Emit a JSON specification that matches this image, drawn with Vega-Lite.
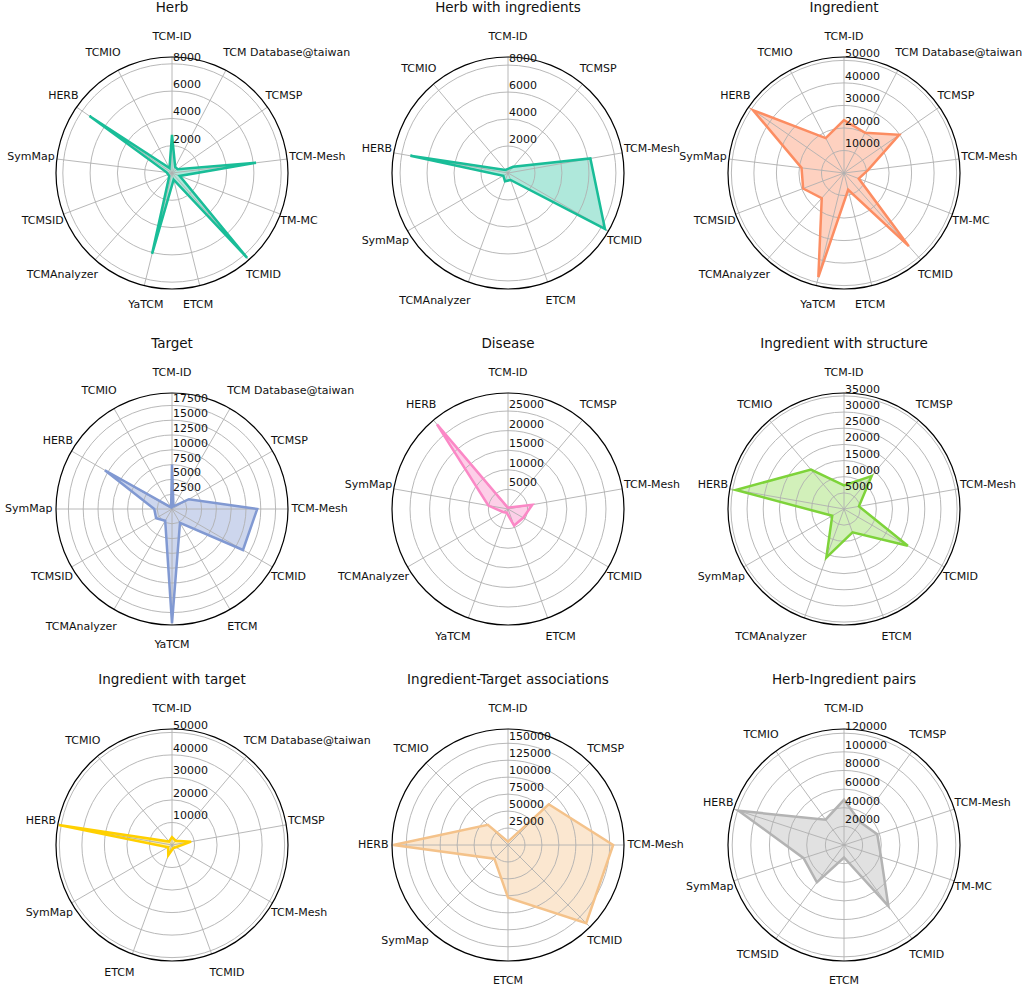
{
  "$schema": "https://vega.github.io/schema/vega-lite/v6.json",
  "padding": {"left": 5, "top": 0, "right": 0, "bottom": 0},
  "background": "white",
  "columns": 3,
  "spacing": {"row": 36, "column": 36},
  "bounds": "flush",
  "resolve": {"scale": {"radius": "independent"}},
  "datasets": {
    "herb": [
      {"i": 0, "db": "TCM-ID", "v": 2800},
      {"i": 1, "db": "TCM Database@taiwan", "v": 500},
      {"i": 2, "db": "TCMSP", "v": 500},
      {"i": 3, "db": "TCM-Mesh", "v": 6200},
      {"i": 4, "db": "TM-MC", "v": 600},
      {"i": 5, "db": "TCMID", "v": 8300},
      {"i": 6, "db": "ETCM", "v": 500},
      {"i": 7, "db": "YaTCM", "v": 6100},
      {"i": 8, "db": "TCMAnalyzer", "v": 300},
      {"i": 9, "db": "TCMSID", "v": 300},
      {"i": 10, "db": "SymMap", "v": 400},
      {"i": 11, "db": "HERB", "v": 7350},
      {"i": 12, "db": "TCMIO", "v": 400}
    ],
    "herb_t": [{"t": 2000}, {"t": 4000}, {"t": 6000}, {"t": 8000}],
    "hwi": [
      {"i": 0, "db": "TCM-ID", "v": 300},
      {"i": 1, "db": "TCMSP", "v": 600},
      {"i": 2, "db": "TCM-Mesh", "v": 6200},
      {"i": 3, "db": "TCMID", "v": 8300},
      {"i": 4, "db": "ETCM", "v": 550},
      {"i": 5, "db": "TCMAnalyzer", "v": 650},
      {"i": 6, "db": "SymMap", "v": 400},
      {"i": 7, "db": "HERB", "v": 7350},
      {"i": 8, "db": "TCMIO", "v": 300}
    ],
    "hwi_t": [{"t": 2000}, {"t": 4000}, {"t": 6000}, {"t": 8000}],
    "ing": [
      {"i": 0, "db": "TCM-ID", "v": 23500},
      {"i": 1, "db": "TCM Database@taiwan", "v": 20200},
      {"i": 2, "db": "TCMSP", "v": 29800},
      {"i": 3, "db": "TCM-Mesh", "v": 10700},
      {"i": 4, "db": "TM-MC", "v": 7000},
      {"i": 5, "db": "TCMID", "v": 43400},
      {"i": 6, "db": "ETCM", "v": 7700},
      {"i": 7, "db": "YaTCM", "v": 47600},
      {"i": 8, "db": "TCMAnalyzer", "v": 14900},
      {"i": 9, "db": "TCMSID", "v": 19400},
      {"i": 10, "db": "SymMap", "v": 19000},
      {"i": 11, "db": "HERB", "v": 49000},
      {"i": 12, "db": "TCMIO", "v": 17500}
    ],
    "ing_t": [{"t": 10000}, {"t": 20000}, {"t": 30000}, {"t": 40000}, {"t": 50000}],
    "tgt": [
      {"i": 0, "db": "TCM-ID", "v": 7500},
      {"i": 1, "db": "TCM Database@taiwan", "v": 500},
      {"i": 2, "db": "TCMSP", "v": 3300},
      {"i": 3, "db": "TCM-Mesh", "v": 14400},
      {"i": 4, "db": "TCMID", "v": 13850},
      {"i": 5, "db": "ETCM", "v": 2700},
      {"i": 6, "db": "YaTCM", "v": 19300},
      {"i": 7, "db": "TCMAnalyzer", "v": 2300},
      {"i": 8, "db": "TCMSID", "v": 3100},
      {"i": 9, "db": "SymMap", "v": 3000},
      {"i": 10, "db": "HERB", "v": 13100},
      {"i": 11, "db": "TCMIO", "v": 300}
    ],
    "tgt_t": [{"t": 2500}, {"t": 5000}, {"t": 7500}, {"t": 10000}, {"t": 12500}, {"t": 15000}, {"t": 17500}],
    "dis": [
      {"i": 0, "db": "TCM-ID", "v": 300},
      {"i": 1, "db": "TCMSP", "v": 500},
      {"i": 2, "db": "TCM-Mesh", "v": 6300},
      {"i": 3, "db": "TCMID", "v": 4500},
      {"i": 4, "db": "ETCM", "v": 4500},
      {"i": 5, "db": "YaTCM", "v": 1000},
      {"i": 6, "db": "TCMAnalyzer", "v": 1500},
      {"i": 7, "db": "SymMap", "v": 5100},
      {"i": 8, "db": "HERB", "v": 28200}
    ],
    "dis_t": [{"t": 5000}, {"t": 10000}, {"t": 15000}, {"t": 20000}, {"t": 25000}],
    "iws": [
      {"i": 0, "db": "TCM-ID", "v": 7300},
      {"i": 1, "db": "TCMSP", "v": 13300},
      {"i": 2, "db": "TCM-Mesh", "v": 4700},
      {"i": 3, "db": "TCMID", "v": 22800},
      {"i": 4, "db": "ETCM", "v": 7700},
      {"i": 5, "db": "TCMAnalyzer", "v": 16000},
      {"i": 6, "db": "SymMap", "v": 4200},
      {"i": 7, "db": "HERB", "v": 34000},
      {"i": 8, "db": "TCMIO", "v": 15900}
    ],
    "iws_t": [{"t": 5000}, {"t": 10000}, {"t": 15000}, {"t": 20000}, {"t": 25000}, {"t": 30000}, {"t": 35000}],
    "iwt": [
      {"i": 0, "db": "TCM-ID", "v": 3500},
      {"i": 1, "db": "TCM Database@taiwan", "v": 2500},
      {"i": 2, "db": "TCMSP", "v": 8600},
      {"i": 3, "db": "TCM-Mesh", "v": 2000},
      {"i": 4, "db": "TCMID", "v": 1500},
      {"i": 5, "db": "ETCM", "v": 4800},
      {"i": 6, "db": "SymMap", "v": 2000},
      {"i": 7, "db": "HERB", "v": 51000},
      {"i": 8, "db": "TCMIO", "v": 2000}
    ],
    "iwt_t": [{"t": 10000}, {"t": 20000}, {"t": 30000}, {"t": 40000}, {"t": 50000}],
    "ita": [
      {"i": 0, "db": "TCM-ID", "v": 5000},
      {"i": 1, "db": "TCMSP", "v": 85000},
      {"i": 2, "db": "TCM-Mesh", "v": 155000},
      {"i": 3, "db": "TCMID", "v": 163000},
      {"i": 4, "db": "ETCM", "v": 77500},
      {"i": 5, "db": "SymMap", "v": 28500},
      {"i": 6, "db": "HERB", "v": 169000},
      {"i": 7, "db": "TCMIO", "v": 42000}
    ],
    "ita_t": [{"t": 25000}, {"t": 50000}, {"t": 75000}, {"t": 100000}, {"t": 125000}, {"t": 150000}],
    "hip": [
      {"i": 0, "db": "TCM-ID", "v": 48500},
      {"i": 1, "db": "TCMSP", "v": 30000},
      {"i": 2, "db": "TCM-Mesh", "v": 37500},
      {"i": 3, "db": "TM-MC", "v": 41800},
      {"i": 4, "db": "TCMID", "v": 81000},
      {"i": 5, "db": "ETCM", "v": 13400},
      {"i": 6, "db": "TCMSID", "v": 49500},
      {"i": 7, "db": "SymMap", "v": 45600},
      {"i": 8, "db": "HERB", "v": 119000},
      {"i": 9, "db": "TCMIO", "v": 33600}
    ],
    "hip_t": [{"t": 20000}, {"t": 40000}, {"t": 60000}, {"t": 80000}, {"t": 100000}, {"t": 120000}]
  },
  "concat": [
    {
      "title": "Herb",
      "width": 300, "height": 300,
      "layer": [
        {"data": {"name": "herb"},
         "transform": [{"calculate": "2*PI*datum.i/13", "as": "th"}, {"calculate": "datum.v/8500*sin(datum.th)", "as": "px"}, {"calculate": "datum.v/8500*cos(datum.th)", "as": "py"}],
         "mark": {"type": "line", "interpolate": "linear-closed", "fill": "#19bd98", "fillOpacity": 0.35, "strokeOpacity": 0},
         "encoding": {"x": {"field": "px", "type": "quantitative", "scale": {"domain": [-1.2931, 1.2931], "nice": false, "zero": false}, "axis": null}, "y": {"field": "py", "type": "quantitative", "scale": {"domain": [-1.2931, 1.2931], "nice": false, "zero": false}, "axis": null}, "order": {"field": "i", "type": "quantitative"}}},
        {"data": {"name": "herb_t"},
         "transform": [{"calculate": "datum.t/8500", "as": "r"}],
         "mark": {"type": "arc", "filled": false, "fill": "transparent", "stroke": "#b0b0b0", "strokeWidth": 0.9, "theta": 0, "theta2": 6.2832},
         "encoding": {"radius": {"field": "r", "type": "quantitative", "stack": null, "scale": {"type": "linear", "domain": [0, 1], "range": [0, 116], "zero": true, "nice": false}}}},
        {"data": {"name": "herb"},
         "transform": [{"calculate": "2*PI*datum.i/13", "as": "th"}, {"calculate": "sin(datum.th)", "as": "sx"}, {"calculate": "cos(datum.th)", "as": "sy"}],
         "mark": {"type": "rule", "color": "#b0b0b0", "strokeWidth": 0.9},
         "encoding": {"x": {"field": "sx", "type": "quantitative"}, "y": {"field": "sy", "type": "quantitative"}, "x2": {"datum": 0}, "y2": {"datum": 0}}},
        {"data": {"name": "herb_t"},
         "transform": [{"aggregate": [{"op": "count", "as": "n"}]}],
         "mark": {"type": "arc", "filled": false, "fill": "transparent", "stroke": "black", "strokeWidth": 1.2, "theta": 0, "theta2": 6.2832},
         "encoding": {"radius": {"datum": 1, "type": "quantitative", "stack": null}}},
        {"data": {"name": "herb"},
         "transform": [{"calculate": "2*PI*datum.i/13", "as": "th"}, {"calculate": "datum.v/8500*sin(datum.th)", "as": "px"}, {"calculate": "datum.v/8500*cos(datum.th)", "as": "py"}],
         "mark": {"type": "line", "interpolate": "linear-closed", "color": "#19bd98", "strokeWidth": 2.5},
         "encoding": {"x": {"field": "px", "type": "quantitative"}, "y": {"field": "py", "type": "quantitative"}, "order": {"field": "i", "type": "quantitative"}}},
        {"data": {"name": "herb_t"},
         "transform": [{"calculate": "datum.t/8500", "as": "r"}],
         "mark": {"type": "text", "align": "left", "baseline": "middle", "dx": 1, "dy": -6},
         "encoding": {"x": {"datum": 0, "type": "quantitative"}, "y": {"field": "r", "type": "quantitative"}, "text": {"field": "t", "type": "quantitative", "format": "d"}}},
        {"data": {"name": "herb"},
         "transform": [{"calculate": "2*PI*datum.i/13", "as": "th"}, {"calculate": "sin(datum.th)", "as": "sx"}, {"calculate": "sin(datum.th)*(1.03-0.09*abs(cos(datum.th)))", "as": "lx"}, {"calculate": "1.1724*cos(datum.th)", "as": "ly"}],
         "mark": {"type": "text", "baseline": "middle", "align": {"expr": "datum.sx > 0.3 ? 'left' : (datum.sx < -0.3 ? 'right' : 'center')"}},
         "encoding": {"x": {"field": "lx", "type": "quantitative"}, "y": {"field": "ly", "type": "quantitative"}, "text": {"field": "db", "type": "nominal"}}}
      ]
    },
    {
      "title": "Herb with ingredients",
      "width": 300, "height": 300,
      "layer": [
        {"data": {"name": "hwi"},
         "transform": [{"calculate": "2*PI*datum.i/9", "as": "th"}, {"calculate": "datum.v/8600*sin(datum.th)", "as": "px"}, {"calculate": "datum.v/8600*cos(datum.th)", "as": "py"}],
         "mark": {"type": "line", "interpolate": "linear-closed", "fill": "#19bd98", "fillOpacity": 0.35, "strokeOpacity": 0},
         "encoding": {"x": {"field": "px", "type": "quantitative", "scale": {"domain": [-1.2931, 1.2931], "nice": false, "zero": false}, "axis": null}, "y": {"field": "py", "type": "quantitative", "scale": {"domain": [-1.2931, 1.2931], "nice": false, "zero": false}, "axis": null}, "order": {"field": "i", "type": "quantitative"}}},
        {"data": {"name": "hwi_t"},
         "transform": [{"calculate": "datum.t/8600", "as": "r"}],
         "mark": {"type": "arc", "filled": false, "fill": "transparent", "stroke": "#b0b0b0", "strokeWidth": 0.9, "theta": 0, "theta2": 6.2832},
         "encoding": {"radius": {"field": "r", "type": "quantitative", "stack": null, "scale": {"type": "linear", "domain": [0, 1], "range": [0, 116], "zero": true, "nice": false}}}},
        {"data": {"name": "hwi"},
         "transform": [{"calculate": "2*PI*datum.i/9", "as": "th"}, {"calculate": "sin(datum.th)", "as": "sx"}, {"calculate": "cos(datum.th)", "as": "sy"}],
         "mark": {"type": "rule", "color": "#b0b0b0", "strokeWidth": 0.9},
         "encoding": {"x": {"field": "sx", "type": "quantitative"}, "y": {"field": "sy", "type": "quantitative"}, "x2": {"datum": 0}, "y2": {"datum": 0}}},
        {"data": {"name": "hwi_t"},
         "transform": [{"aggregate": [{"op": "count", "as": "n"}]}],
         "mark": {"type": "arc", "filled": false, "fill": "transparent", "stroke": "black", "strokeWidth": 1.2, "theta": 0, "theta2": 6.2832},
         "encoding": {"radius": {"datum": 1, "type": "quantitative", "stack": null}}},
        {"data": {"name": "hwi"},
         "transform": [{"calculate": "2*PI*datum.i/9", "as": "th"}, {"calculate": "datum.v/8600*sin(datum.th)", "as": "px"}, {"calculate": "datum.v/8600*cos(datum.th)", "as": "py"}],
         "mark": {"type": "line", "interpolate": "linear-closed", "color": "#19bd98", "strokeWidth": 2.5},
         "encoding": {"x": {"field": "px", "type": "quantitative"}, "y": {"field": "py", "type": "quantitative"}, "order": {"field": "i", "type": "quantitative"}}},
        {"data": {"name": "hwi_t"},
         "transform": [{"calculate": "datum.t/8600", "as": "r"}],
         "mark": {"type": "text", "align": "left", "baseline": "middle", "dx": 1, "dy": -6},
         "encoding": {"x": {"datum": 0, "type": "quantitative"}, "y": {"field": "r", "type": "quantitative"}, "text": {"field": "t", "type": "quantitative", "format": "d"}}},
        {"data": {"name": "hwi"},
         "transform": [{"calculate": "2*PI*datum.i/9", "as": "th"}, {"calculate": "sin(datum.th)", "as": "sx"}, {"calculate": "sin(datum.th)*(1.03-0.09*abs(cos(datum.th)))", "as": "lx"}, {"calculate": "1.1724*cos(datum.th)", "as": "ly"}],
         "mark": {"type": "text", "baseline": "middle", "align": {"expr": "datum.sx > 0.3 ? 'left' : (datum.sx < -0.3 ? 'right' : 'center')"}},
         "encoding": {"x": {"field": "lx", "type": "quantitative"}, "y": {"field": "ly", "type": "quantitative"}, "text": {"field": "db", "type": "nominal"}}}
      ]
    },
    {
      "title": "Ingredient",
      "width": 300, "height": 300,
      "layer": [
        {"data": {"name": "ing"},
         "transform": [{"calculate": "2*PI*datum.i/13", "as": "th"}, {"calculate": "datum.v/51500*sin(datum.th)", "as": "px"}, {"calculate": "datum.v/51500*cos(datum.th)", "as": "py"}],
         "mark": {"type": "line", "interpolate": "linear-closed", "fill": "#fc8d62", "fillOpacity": 0.4, "strokeOpacity": 0},
         "encoding": {"x": {"field": "px", "type": "quantitative", "scale": {"domain": [-1.2931, 1.2931], "nice": false, "zero": false}, "axis": null}, "y": {"field": "py", "type": "quantitative", "scale": {"domain": [-1.2931, 1.2931], "nice": false, "zero": false}, "axis": null}, "order": {"field": "i", "type": "quantitative"}}},
        {"data": {"name": "ing_t"},
         "transform": [{"calculate": "datum.t/51500", "as": "r"}],
         "mark": {"type": "arc", "filled": false, "fill": "transparent", "stroke": "#b0b0b0", "strokeWidth": 0.9, "theta": 0, "theta2": 6.2832},
         "encoding": {"radius": {"field": "r", "type": "quantitative", "stack": null, "scale": {"type": "linear", "domain": [0, 1], "range": [0, 116], "zero": true, "nice": false}}}},
        {"data": {"name": "ing"},
         "transform": [{"calculate": "2*PI*datum.i/13", "as": "th"}, {"calculate": "sin(datum.th)", "as": "sx"}, {"calculate": "cos(datum.th)", "as": "sy"}],
         "mark": {"type": "rule", "color": "#b0b0b0", "strokeWidth": 0.9},
         "encoding": {"x": {"field": "sx", "type": "quantitative"}, "y": {"field": "sy", "type": "quantitative"}, "x2": {"datum": 0}, "y2": {"datum": 0}}},
        {"data": {"name": "ing_t"},
         "transform": [{"aggregate": [{"op": "count", "as": "n"}]}],
         "mark": {"type": "arc", "filled": false, "fill": "transparent", "stroke": "black", "strokeWidth": 1.2, "theta": 0, "theta2": 6.2832},
         "encoding": {"radius": {"datum": 1, "type": "quantitative", "stack": null}}},
        {"data": {"name": "ing"},
         "transform": [{"calculate": "2*PI*datum.i/13", "as": "th"}, {"calculate": "datum.v/51500*sin(datum.th)", "as": "px"}, {"calculate": "datum.v/51500*cos(datum.th)", "as": "py"}],
         "mark": {"type": "line", "interpolate": "linear-closed", "color": "#fc8d62", "strokeWidth": 2.5},
         "encoding": {"x": {"field": "px", "type": "quantitative"}, "y": {"field": "py", "type": "quantitative"}, "order": {"field": "i", "type": "quantitative"}}},
        {"data": {"name": "ing_t"},
         "transform": [{"calculate": "datum.t/51500", "as": "r"}],
         "mark": {"type": "text", "align": "left", "baseline": "middle", "dx": 1, "dy": -6},
         "encoding": {"x": {"datum": 0, "type": "quantitative"}, "y": {"field": "r", "type": "quantitative"}, "text": {"field": "t", "type": "quantitative", "format": "d"}}},
        {"data": {"name": "ing"},
         "transform": [{"calculate": "2*PI*datum.i/13", "as": "th"}, {"calculate": "sin(datum.th)", "as": "sx"}, {"calculate": "sin(datum.th)*(1.03-0.09*abs(cos(datum.th)))", "as": "lx"}, {"calculate": "1.1724*cos(datum.th)", "as": "ly"}],
         "mark": {"type": "text", "baseline": "middle", "align": {"expr": "datum.sx > 0.3 ? 'left' : (datum.sx < -0.3 ? 'right' : 'center')"}},
         "encoding": {"x": {"field": "lx", "type": "quantitative"}, "y": {"field": "ly", "type": "quantitative"}, "text": {"field": "db", "type": "nominal"}}}
      ]
    },
    {
      "title": "Target",
      "width": 300, "height": 300,
      "layer": [
        {"data": {"name": "tgt"},
         "transform": [{"calculate": "2*PI*datum.i/12", "as": "th"}, {"calculate": "datum.v/19600*sin(datum.th)", "as": "px"}, {"calculate": "datum.v/19600*cos(datum.th)", "as": "py"}],
         "mark": {"type": "line", "interpolate": "linear-closed", "fill": "#8199d2", "fillOpacity": 0.4, "strokeOpacity": 0},
         "encoding": {"x": {"field": "px", "type": "quantitative", "scale": {"domain": [-1.2931, 1.2931], "nice": false, "zero": false}, "axis": null}, "y": {"field": "py", "type": "quantitative", "scale": {"domain": [-1.2931, 1.2931], "nice": false, "zero": false}, "axis": null}, "order": {"field": "i", "type": "quantitative"}}},
        {"data": {"name": "tgt_t"},
         "transform": [{"calculate": "datum.t/19600", "as": "r"}],
         "mark": {"type": "arc", "filled": false, "fill": "transparent", "stroke": "#b0b0b0", "strokeWidth": 0.9, "theta": 0, "theta2": 6.2832},
         "encoding": {"radius": {"field": "r", "type": "quantitative", "stack": null, "scale": {"type": "linear", "domain": [0, 1], "range": [0, 116], "zero": true, "nice": false}}}},
        {"data": {"name": "tgt"},
         "transform": [{"calculate": "2*PI*datum.i/12", "as": "th"}, {"calculate": "sin(datum.th)", "as": "sx"}, {"calculate": "cos(datum.th)", "as": "sy"}],
         "mark": {"type": "rule", "color": "#b0b0b0", "strokeWidth": 0.9},
         "encoding": {"x": {"field": "sx", "type": "quantitative"}, "y": {"field": "sy", "type": "quantitative"}, "x2": {"datum": 0}, "y2": {"datum": 0}}},
        {"data": {"name": "tgt_t"},
         "transform": [{"aggregate": [{"op": "count", "as": "n"}]}],
         "mark": {"type": "arc", "filled": false, "fill": "transparent", "stroke": "black", "strokeWidth": 1.2, "theta": 0, "theta2": 6.2832},
         "encoding": {"radius": {"datum": 1, "type": "quantitative", "stack": null}}},
        {"data": {"name": "tgt"},
         "transform": [{"calculate": "2*PI*datum.i/12", "as": "th"}, {"calculate": "datum.v/19600*sin(datum.th)", "as": "px"}, {"calculate": "datum.v/19600*cos(datum.th)", "as": "py"}],
         "mark": {"type": "line", "interpolate": "linear-closed", "color": "#8199d2", "strokeWidth": 2.5},
         "encoding": {"x": {"field": "px", "type": "quantitative"}, "y": {"field": "py", "type": "quantitative"}, "order": {"field": "i", "type": "quantitative"}}},
        {"data": {"name": "tgt_t"},
         "transform": [{"calculate": "datum.t/19600", "as": "r"}],
         "mark": {"type": "text", "align": "left", "baseline": "middle", "dx": 1, "dy": -6},
         "encoding": {"x": {"datum": 0, "type": "quantitative"}, "y": {"field": "r", "type": "quantitative"}, "text": {"field": "t", "type": "quantitative", "format": "d"}}},
        {"data": {"name": "tgt"},
         "transform": [{"calculate": "2*PI*datum.i/12", "as": "th"}, {"calculate": "sin(datum.th)", "as": "sx"}, {"calculate": "sin(datum.th)*(1.03-0.09*abs(cos(datum.th)))", "as": "lx"}, {"calculate": "1.1724*cos(datum.th)", "as": "ly"}],
         "mark": {"type": "text", "baseline": "middle", "align": {"expr": "datum.sx > 0.3 ? 'left' : (datum.sx < -0.3 ? 'right' : 'center')"}},
         "encoding": {"x": {"field": "lx", "type": "quantitative"}, "y": {"field": "ly", "type": "quantitative"}, "text": {"field": "db", "type": "nominal"}}}
      ]
    },
    {
      "title": "Disease",
      "width": 300, "height": 300,
      "layer": [
        {"data": {"name": "dis"},
         "transform": [{"calculate": "2*PI*datum.i/9", "as": "th"}, {"calculate": "datum.v/29600*sin(datum.th)", "as": "px"}, {"calculate": "datum.v/29600*cos(datum.th)", "as": "py"}],
         "mark": {"type": "line", "interpolate": "linear-closed", "fill": "#fb88c6", "fillOpacity": 0.4, "strokeOpacity": 0},
         "encoding": {"x": {"field": "px", "type": "quantitative", "scale": {"domain": [-1.2931, 1.2931], "nice": false, "zero": false}, "axis": null}, "y": {"field": "py", "type": "quantitative", "scale": {"domain": [-1.2931, 1.2931], "nice": false, "zero": false}, "axis": null}, "order": {"field": "i", "type": "quantitative"}}},
        {"data": {"name": "dis_t"},
         "transform": [{"calculate": "datum.t/29600", "as": "r"}],
         "mark": {"type": "arc", "filled": false, "fill": "transparent", "stroke": "#b0b0b0", "strokeWidth": 0.9, "theta": 0, "theta2": 6.2832},
         "encoding": {"radius": {"field": "r", "type": "quantitative", "stack": null, "scale": {"type": "linear", "domain": [0, 1], "range": [0, 116], "zero": true, "nice": false}}}},
        {"data": {"name": "dis"},
         "transform": [{"calculate": "2*PI*datum.i/9", "as": "th"}, {"calculate": "sin(datum.th)", "as": "sx"}, {"calculate": "cos(datum.th)", "as": "sy"}],
         "mark": {"type": "rule", "color": "#b0b0b0", "strokeWidth": 0.9},
         "encoding": {"x": {"field": "sx", "type": "quantitative"}, "y": {"field": "sy", "type": "quantitative"}, "x2": {"datum": 0}, "y2": {"datum": 0}}},
        {"data": {"name": "dis_t"},
         "transform": [{"aggregate": [{"op": "count", "as": "n"}]}],
         "mark": {"type": "arc", "filled": false, "fill": "transparent", "stroke": "black", "strokeWidth": 1.2, "theta": 0, "theta2": 6.2832},
         "encoding": {"radius": {"datum": 1, "type": "quantitative", "stack": null}}},
        {"data": {"name": "dis"},
         "transform": [{"calculate": "2*PI*datum.i/9", "as": "th"}, {"calculate": "datum.v/29600*sin(datum.th)", "as": "px"}, {"calculate": "datum.v/29600*cos(datum.th)", "as": "py"}],
         "mark": {"type": "line", "interpolate": "linear-closed", "color": "#fb88c6", "strokeWidth": 2.5},
         "encoding": {"x": {"field": "px", "type": "quantitative"}, "y": {"field": "py", "type": "quantitative"}, "order": {"field": "i", "type": "quantitative"}}},
        {"data": {"name": "dis_t"},
         "transform": [{"calculate": "datum.t/29600", "as": "r"}],
         "mark": {"type": "text", "align": "left", "baseline": "middle", "dx": 1, "dy": -6},
         "encoding": {"x": {"datum": 0, "type": "quantitative"}, "y": {"field": "r", "type": "quantitative"}, "text": {"field": "t", "type": "quantitative", "format": "d"}}},
        {"data": {"name": "dis"},
         "transform": [{"calculate": "2*PI*datum.i/9", "as": "th"}, {"calculate": "sin(datum.th)", "as": "sx"}, {"calculate": "sin(datum.th)*(1.03-0.09*abs(cos(datum.th)))", "as": "lx"}, {"calculate": "1.1724*cos(datum.th)", "as": "ly"}],
         "mark": {"type": "text", "baseline": "middle", "align": {"expr": "datum.sx > 0.3 ? 'left' : (datum.sx < -0.3 ? 'right' : 'center')"}},
         "encoding": {"x": {"field": "lx", "type": "quantitative"}, "y": {"field": "ly", "type": "quantitative"}, "text": {"field": "db", "type": "nominal"}}}
      ]
    },
    {
      "title": "Ingredient with structure",
      "width": 300, "height": 300,
      "layer": [
        {"data": {"name": "iws"},
         "transform": [{"calculate": "2*PI*datum.i/9", "as": "th"}, {"calculate": "datum.v/35900*sin(datum.th)", "as": "px"}, {"calculate": "datum.v/35900*cos(datum.th)", "as": "py"}],
         "mark": {"type": "line", "interpolate": "linear-closed", "fill": "#7ed33a", "fillOpacity": 0.35, "strokeOpacity": 0},
         "encoding": {"x": {"field": "px", "type": "quantitative", "scale": {"domain": [-1.2931, 1.2931], "nice": false, "zero": false}, "axis": null}, "y": {"field": "py", "type": "quantitative", "scale": {"domain": [-1.2931, 1.2931], "nice": false, "zero": false}, "axis": null}, "order": {"field": "i", "type": "quantitative"}}},
        {"data": {"name": "iws_t"},
         "transform": [{"calculate": "datum.t/35900", "as": "r"}],
         "mark": {"type": "arc", "filled": false, "fill": "transparent", "stroke": "#b0b0b0", "strokeWidth": 0.9, "theta": 0, "theta2": 6.2832},
         "encoding": {"radius": {"field": "r", "type": "quantitative", "stack": null, "scale": {"type": "linear", "domain": [0, 1], "range": [0, 116], "zero": true, "nice": false}}}},
        {"data": {"name": "iws"},
         "transform": [{"calculate": "2*PI*datum.i/9", "as": "th"}, {"calculate": "sin(datum.th)", "as": "sx"}, {"calculate": "cos(datum.th)", "as": "sy"}],
         "mark": {"type": "rule", "color": "#b0b0b0", "strokeWidth": 0.9},
         "encoding": {"x": {"field": "sx", "type": "quantitative"}, "y": {"field": "sy", "type": "quantitative"}, "x2": {"datum": 0}, "y2": {"datum": 0}}},
        {"data": {"name": "iws_t"},
         "transform": [{"aggregate": [{"op": "count", "as": "n"}]}],
         "mark": {"type": "arc", "filled": false, "fill": "transparent", "stroke": "black", "strokeWidth": 1.2, "theta": 0, "theta2": 6.2832},
         "encoding": {"radius": {"datum": 1, "type": "quantitative", "stack": null}}},
        {"data": {"name": "iws"},
         "transform": [{"calculate": "2*PI*datum.i/9", "as": "th"}, {"calculate": "datum.v/35900*sin(datum.th)", "as": "px"}, {"calculate": "datum.v/35900*cos(datum.th)", "as": "py"}],
         "mark": {"type": "line", "interpolate": "linear-closed", "color": "#7ed33a", "strokeWidth": 2.5},
         "encoding": {"x": {"field": "px", "type": "quantitative"}, "y": {"field": "py", "type": "quantitative"}, "order": {"field": "i", "type": "quantitative"}}},
        {"data": {"name": "iws_t"},
         "transform": [{"calculate": "datum.t/35900", "as": "r"}],
         "mark": {"type": "text", "align": "left", "baseline": "middle", "dx": 1, "dy": -6},
         "encoding": {"x": {"datum": 0, "type": "quantitative"}, "y": {"field": "r", "type": "quantitative"}, "text": {"field": "t", "type": "quantitative", "format": "d"}}},
        {"data": {"name": "iws"},
         "transform": [{"calculate": "2*PI*datum.i/9", "as": "th"}, {"calculate": "sin(datum.th)", "as": "sx"}, {"calculate": "sin(datum.th)*(1.03-0.09*abs(cos(datum.th)))", "as": "lx"}, {"calculate": "1.1724*cos(datum.th)", "as": "ly"}],
         "mark": {"type": "text", "baseline": "middle", "align": {"expr": "datum.sx > 0.3 ? 'left' : (datum.sx < -0.3 ? 'right' : 'center')"}},
         "encoding": {"x": {"field": "lx", "type": "quantitative"}, "y": {"field": "ly", "type": "quantitative"}, "text": {"field": "db", "type": "nominal"}}}
      ]
    },
    {
      "title": "Ingredient with target",
      "width": 300, "height": 300,
      "layer": [
        {"data": {"name": "iwt"},
         "transform": [{"calculate": "2*PI*datum.i/9", "as": "th"}, {"calculate": "datum.v/51500*sin(datum.th)", "as": "px"}, {"calculate": "datum.v/51500*cos(datum.th)", "as": "py"}],
         "mark": {"type": "line", "interpolate": "linear-closed", "fill": "#ffd000", "fillOpacity": 0.35, "strokeOpacity": 0},
         "encoding": {"x": {"field": "px", "type": "quantitative", "scale": {"domain": [-1.2931, 1.2931], "nice": false, "zero": false}, "axis": null}, "y": {"field": "py", "type": "quantitative", "scale": {"domain": [-1.2931, 1.2931], "nice": false, "zero": false}, "axis": null}, "order": {"field": "i", "type": "quantitative"}}},
        {"data": {"name": "iwt_t"},
         "transform": [{"calculate": "datum.t/51500", "as": "r"}],
         "mark": {"type": "arc", "filled": false, "fill": "transparent", "stroke": "#b0b0b0", "strokeWidth": 0.9, "theta": 0, "theta2": 6.2832},
         "encoding": {"radius": {"field": "r", "type": "quantitative", "stack": null, "scale": {"type": "linear", "domain": [0, 1], "range": [0, 116], "zero": true, "nice": false}}}},
        {"data": {"name": "iwt"},
         "transform": [{"calculate": "2*PI*datum.i/9", "as": "th"}, {"calculate": "sin(datum.th)", "as": "sx"}, {"calculate": "cos(datum.th)", "as": "sy"}],
         "mark": {"type": "rule", "color": "#b0b0b0", "strokeWidth": 0.9},
         "encoding": {"x": {"field": "sx", "type": "quantitative"}, "y": {"field": "sy", "type": "quantitative"}, "x2": {"datum": 0}, "y2": {"datum": 0}}},
        {"data": {"name": "iwt_t"},
         "transform": [{"aggregate": [{"op": "count", "as": "n"}]}],
         "mark": {"type": "arc", "filled": false, "fill": "transparent", "stroke": "black", "strokeWidth": 1.2, "theta": 0, "theta2": 6.2832},
         "encoding": {"radius": {"datum": 1, "type": "quantitative", "stack": null}}},
        {"data": {"name": "iwt"},
         "transform": [{"calculate": "2*PI*datum.i/9", "as": "th"}, {"calculate": "datum.v/51500*sin(datum.th)", "as": "px"}, {"calculate": "datum.v/51500*cos(datum.th)", "as": "py"}],
         "mark": {"type": "line", "interpolate": "linear-closed", "color": "#ffd000", "strokeWidth": 2.5},
         "encoding": {"x": {"field": "px", "type": "quantitative"}, "y": {"field": "py", "type": "quantitative"}, "order": {"field": "i", "type": "quantitative"}}},
        {"data": {"name": "iwt_t"},
         "transform": [{"calculate": "datum.t/51500", "as": "r"}],
         "mark": {"type": "text", "align": "left", "baseline": "middle", "dx": 1, "dy": -6},
         "encoding": {"x": {"datum": 0, "type": "quantitative"}, "y": {"field": "r", "type": "quantitative"}, "text": {"field": "t", "type": "quantitative", "format": "d"}}},
        {"data": {"name": "iwt"},
         "transform": [{"calculate": "2*PI*datum.i/9", "as": "th"}, {"calculate": "sin(datum.th)", "as": "sx"}, {"calculate": "sin(datum.th)*(1.03-0.09*abs(cos(datum.th)))", "as": "lx"}, {"calculate": "1.1724*cos(datum.th)", "as": "ly"}],
         "mark": {"type": "text", "baseline": "middle", "align": {"expr": "datum.sx > 0.3 ? 'left' : (datum.sx < -0.3 ? 'right' : 'center')"}},
         "encoding": {"x": {"field": "lx", "type": "quantitative"}, "y": {"field": "ly", "type": "quantitative"}, "text": {"field": "db", "type": "nominal"}}}
      ]
    },
    {
      "title": "Ingredient-Target associations",
      "width": 300, "height": 300,
      "layer": [
        {"data": {"name": "ita"},
         "transform": [{"calculate": "2*PI*datum.i/8", "as": "th"}, {"calculate": "datum.v/171000*sin(datum.th)", "as": "px"}, {"calculate": "datum.v/171000*cos(datum.th)", "as": "py"}],
         "mark": {"type": "line", "interpolate": "linear-closed", "fill": "#f4c28a", "fillOpacity": 0.4, "strokeOpacity": 0},
         "encoding": {"x": {"field": "px", "type": "quantitative", "scale": {"domain": [-1.2931, 1.2931], "nice": false, "zero": false}, "axis": null}, "y": {"field": "py", "type": "quantitative", "scale": {"domain": [-1.2931, 1.2931], "nice": false, "zero": false}, "axis": null}, "order": {"field": "i", "type": "quantitative"}}},
        {"data": {"name": "ita_t"},
         "transform": [{"calculate": "datum.t/171000", "as": "r"}],
         "mark": {"type": "arc", "filled": false, "fill": "transparent", "stroke": "#b0b0b0", "strokeWidth": 0.9, "theta": 0, "theta2": 6.2832},
         "encoding": {"radius": {"field": "r", "type": "quantitative", "stack": null, "scale": {"type": "linear", "domain": [0, 1], "range": [0, 116], "zero": true, "nice": false}}}},
        {"data": {"name": "ita"},
         "transform": [{"calculate": "2*PI*datum.i/8", "as": "th"}, {"calculate": "sin(datum.th)", "as": "sx"}, {"calculate": "cos(datum.th)", "as": "sy"}],
         "mark": {"type": "rule", "color": "#b0b0b0", "strokeWidth": 0.9},
         "encoding": {"x": {"field": "sx", "type": "quantitative"}, "y": {"field": "sy", "type": "quantitative"}, "x2": {"datum": 0}, "y2": {"datum": 0}}},
        {"data": {"name": "ita_t"},
         "transform": [{"aggregate": [{"op": "count", "as": "n"}]}],
         "mark": {"type": "arc", "filled": false, "fill": "transparent", "stroke": "black", "strokeWidth": 1.2, "theta": 0, "theta2": 6.2832},
         "encoding": {"radius": {"datum": 1, "type": "quantitative", "stack": null}}},
        {"data": {"name": "ita"},
         "transform": [{"calculate": "2*PI*datum.i/8", "as": "th"}, {"calculate": "datum.v/171000*sin(datum.th)", "as": "px"}, {"calculate": "datum.v/171000*cos(datum.th)", "as": "py"}],
         "mark": {"type": "line", "interpolate": "linear-closed", "color": "#f4c28a", "strokeWidth": 2.5},
         "encoding": {"x": {"field": "px", "type": "quantitative"}, "y": {"field": "py", "type": "quantitative"}, "order": {"field": "i", "type": "quantitative"}}},
        {"data": {"name": "ita_t"},
         "transform": [{"calculate": "datum.t/171000", "as": "r"}],
         "mark": {"type": "text", "align": "left", "baseline": "middle", "dx": 1, "dy": -6},
         "encoding": {"x": {"datum": 0, "type": "quantitative"}, "y": {"field": "r", "type": "quantitative"}, "text": {"field": "t", "type": "quantitative", "format": "d"}}},
        {"data": {"name": "ita"},
         "transform": [{"calculate": "2*PI*datum.i/8", "as": "th"}, {"calculate": "sin(datum.th)", "as": "sx"}, {"calculate": "sin(datum.th)*(1.03-0.09*abs(cos(datum.th)))", "as": "lx"}, {"calculate": "1.1724*cos(datum.th)", "as": "ly"}],
         "mark": {"type": "text", "baseline": "middle", "align": {"expr": "datum.sx > 0.3 ? 'left' : (datum.sx < -0.3 ? 'right' : 'center')"}},
         "encoding": {"x": {"field": "lx", "type": "quantitative"}, "y": {"field": "ly", "type": "quantitative"}, "text": {"field": "db", "type": "nominal"}}}
      ]
    },
    {
      "title": "Herb-Ingredient pairs",
      "width": 300, "height": 300,
      "layer": [
        {"data": {"name": "hip"},
         "transform": [{"calculate": "2*PI*datum.i/10", "as": "th"}, {"calculate": "datum.v/124500*sin(datum.th)", "as": "px"}, {"calculate": "datum.v/124500*cos(datum.th)", "as": "py"}],
         "mark": {"type": "line", "interpolate": "linear-closed", "fill": "#b3b3b3", "fillOpacity": 0.4, "strokeOpacity": 0},
         "encoding": {"x": {"field": "px", "type": "quantitative", "scale": {"domain": [-1.2931, 1.2931], "nice": false, "zero": false}, "axis": null}, "y": {"field": "py", "type": "quantitative", "scale": {"domain": [-1.2931, 1.2931], "nice": false, "zero": false}, "axis": null}, "order": {"field": "i", "type": "quantitative"}}},
        {"data": {"name": "hip_t"},
         "transform": [{"calculate": "datum.t/124500", "as": "r"}],
         "mark": {"type": "arc", "filled": false, "fill": "transparent", "stroke": "#b0b0b0", "strokeWidth": 0.9, "theta": 0, "theta2": 6.2832},
         "encoding": {"radius": {"field": "r", "type": "quantitative", "stack": null, "scale": {"type": "linear", "domain": [0, 1], "range": [0, 116], "zero": true, "nice": false}}}},
        {"data": {"name": "hip"},
         "transform": [{"calculate": "2*PI*datum.i/10", "as": "th"}, {"calculate": "sin(datum.th)", "as": "sx"}, {"calculate": "cos(datum.th)", "as": "sy"}],
         "mark": {"type": "rule", "color": "#b0b0b0", "strokeWidth": 0.9},
         "encoding": {"x": {"field": "sx", "type": "quantitative"}, "y": {"field": "sy", "type": "quantitative"}, "x2": {"datum": 0}, "y2": {"datum": 0}}},
        {"data": {"name": "hip_t"},
         "transform": [{"aggregate": [{"op": "count", "as": "n"}]}],
         "mark": {"type": "arc", "filled": false, "fill": "transparent", "stroke": "black", "strokeWidth": 1.2, "theta": 0, "theta2": 6.2832},
         "encoding": {"radius": {"datum": 1, "type": "quantitative", "stack": null}}},
        {"data": {"name": "hip"},
         "transform": [{"calculate": "2*PI*datum.i/10", "as": "th"}, {"calculate": "datum.v/124500*sin(datum.th)", "as": "px"}, {"calculate": "datum.v/124500*cos(datum.th)", "as": "py"}],
         "mark": {"type": "line", "interpolate": "linear-closed", "color": "#b3b3b3", "strokeWidth": 2.5},
         "encoding": {"x": {"field": "px", "type": "quantitative"}, "y": {"field": "py", "type": "quantitative"}, "order": {"field": "i", "type": "quantitative"}}},
        {"data": {"name": "hip_t"},
         "transform": [{"calculate": "datum.t/124500", "as": "r"}],
         "mark": {"type": "text", "align": "left", "baseline": "middle", "dx": 1, "dy": -6},
         "encoding": {"x": {"datum": 0, "type": "quantitative"}, "y": {"field": "r", "type": "quantitative"}, "text": {"field": "t", "type": "quantitative", "format": "d"}}},
        {"data": {"name": "hip"},
         "transform": [{"calculate": "2*PI*datum.i/10", "as": "th"}, {"calculate": "sin(datum.th)", "as": "sx"}, {"calculate": "sin(datum.th)*(1.03-0.09*abs(cos(datum.th)))", "as": "lx"}, {"calculate": "1.1724*cos(datum.th)", "as": "ly"}],
         "mark": {"type": "text", "baseline": "middle", "align": {"expr": "datum.sx > 0.3 ? 'left' : (datum.sx < -0.3 ? 'right' : 'center')"}},
         "encoding": {"x": {"field": "lx", "type": "quantitative"}, "y": {"field": "ly", "type": "quantitative"}, "text": {"field": "db", "type": "nominal"}}}
      ]
    }
  ],
  "config": {
    "font": "DejaVu Sans",
    "view": {"stroke": null},
    "title": {"fontSize": 13.5, "fontWeight": "normal", "color": "#111111", "frame": "group", "offset": 9},
    "text": {"fontSize": 11, "color": "#111111"}
  }
}
